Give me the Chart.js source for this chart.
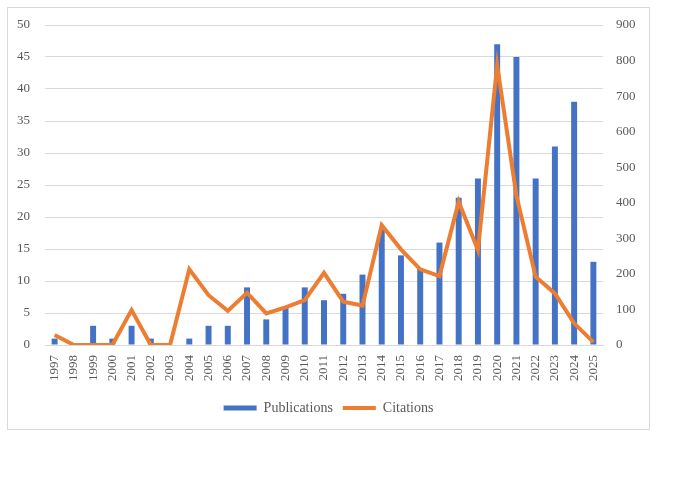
<!DOCTYPE html>
<html>
<head>
<meta charset="utf-8">
<script src="https://cdn.jsdelivr.net/npm/chart.js@4"></script>
<style>
  body { margin: 0; background: #fff; }
  #box {
    position: absolute; left: 7px; top: 7px;
    width: 643px; height: 423px;
    border: 1px solid #d9d9d9; box-sizing: border-box;
  }
</style>
</head>
<body>
<div id="box"><canvas id="chart"></canvas></div>
<script>
// Publications per year and citations per year
var years = ['1997', '1998', '1999', '2000', '2001', '2002', '2003', '2004', '2005', '2006',
             '2007', '2008', '2009', '2010', '2011', '2012', '2013', '2014', '2015', '2016',
             '2017', '2018', '2019', '2020', '2021', '2022', '2023', '2024', '2025'];
var publications = [1, 0, 3, 1, 3, 1, 0, 1, 3, 3,
                    9, 4, 6, 9, 7, 8, 11, 18, 14, 12,
                    16, 23, 26, 47, 45, 26, 31, 38, 13];
var citations = [28, 0, 0, 0, 98, 0, 0, 213, 140, 96,
                 147, 89, 106, 126, 203, 122, 111, 337, 269, 213,
                 194, 403, 267, 787, 420, 192, 145, 61, 8];

var grey = '#595959';
var serif = '"Liberation Serif", "Times New Roman", serif';

function fixWidth(w) {
    return function (s) { s.width = w; s.paddingTop = 0; s.paddingBottom = 0; };
}

var ctx = document.getElementById('chart').getContext('2d');
var chart = new Chart(ctx, {
    type: 'bar',
    data: {
        labels: years,
        datasets: [{
            label: 'Publications',
            data: publications,
            backgroundColor: '#4472C4',
            borderWidth: 0,
            categoryPercentage: 1,
            barPercentage: 0.31,
            pointStyle: 'rect',
            yAxisID: 'y',
            order: 1
        }, {
            type: 'line',
            label: 'Citations',
            data: citations,
            borderColor: '#ED7D31',
            backgroundColor: '#ED7D31',
            borderWidth: 4,
            pointRadius: 0,
            pointStyle: 'line',
            tension: 0,
            yAxisID: 'y1',
            order: 0
        }]
    },
    options: {
        responsive: true,
        maintainAspectRatio: false,
        animation: false,
        layout: { padding: { top: 17, bottom: 4, left: 0, right: 0 } },
        plugins: {
            tooltip: { enabled: false },
            legend: {
                position: 'bottom',
                labels: {
                    usePointStyle: true,
                    pointStyleWidth: 33,
                    boxHeight: 5,
                    padding: 10,
                    color: grey,
                    font: { family: serif, size: 14 },
                    sort: function (a, b) { return a.datasetIndex - b.datasetIndex; }
                }
            }
        },
        scales: {
            x: {
                grid: { display: false, drawTicks: false },
                border: { display: true, color: '#d9d9d9' },
                ticks: {
                    color: grey,
                    font: { family: serif, size: 13 },
                    minRotation: 90,
                    maxRotation: 90,
                    padding: 10,
                    autoSkip: false
                },
                afterFit: function (s) { s.height = 46; }
            },
            y: {
                position: 'left',
                min: 0,
                max: 50,
                grid: { color: '#d9d9d9', drawTicks: false },
                border: { display: false },
                ticks: { stepSize: 5, color: grey, font: { family: serif, size: 13 }, padding: 15 },
                afterFit: fixWidth(37)
            },
            y1: {
                position: 'right',
                min: 0,
                max: 900,
                grid: { display: false, drawTicks: false },
                border: { display: false },
                ticks: { stepSize: 100, color: grey, font: { family: serif, size: 13 }, padding: 13 },
                afterFit: fixWidth(46)
            }
        }
    }
});
</script>
</body>
</html>
